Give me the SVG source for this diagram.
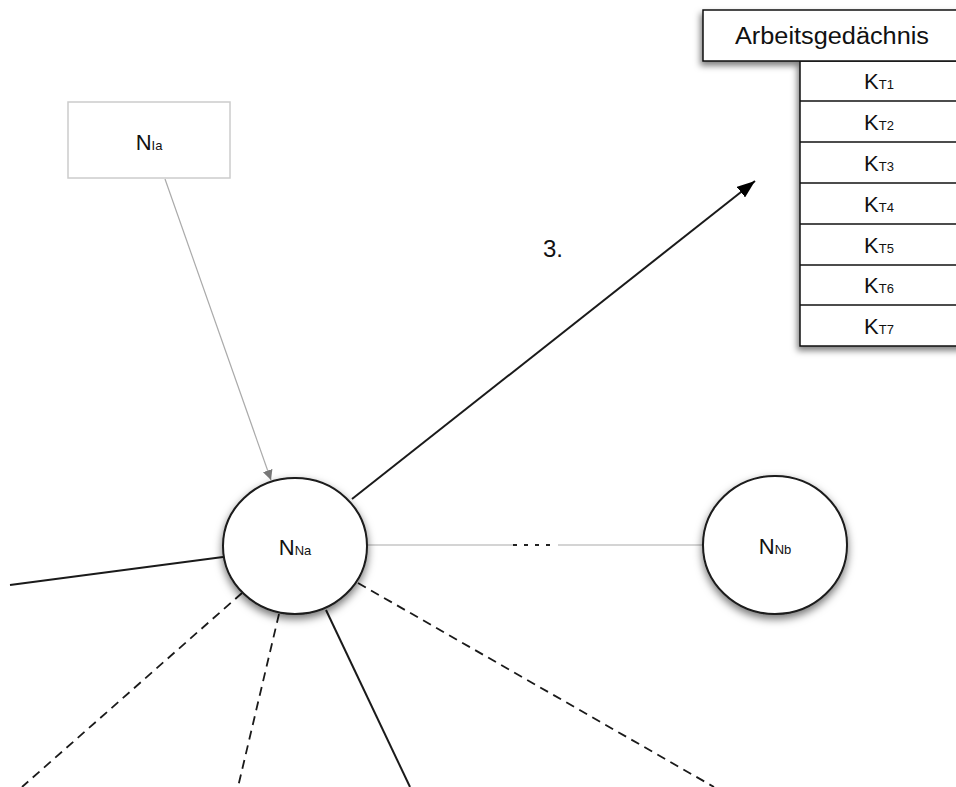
<svg xmlns="http://www.w3.org/2000/svg" width="956" height="787" viewBox="0 0 956 787">
<defs>
<filter id="sh" x="-30%" y="-30%" width="160%" height="160%">
<feDropShadow dx="0" dy="4" stdDeviation="4" flood-color="#000" flood-opacity="0.55"/>
</filter>
<filter id="tsh" x="-10%" y="-10%" width="120%" height="130%">
<feDropShadow dx="-2" dy="4" stdDeviation="3" flood-color="#000" flood-opacity="0.5"/>
</filter>
<marker id="ah" viewBox="0 0 10 10" refX="10" refY="5" markerWidth="10" markerHeight="10" markerUnits="userSpaceOnUse" orient="auto">
<path d="M0,0 L10,5 L0,10 z" fill="#777"/>
</marker>
<marker id="ahb" viewBox="0 0 16 12" refX="16" refY="6" markerWidth="18" markerHeight="14" markerUnits="userSpaceOnUse" orient="auto">
<path d="M0,0 L16,6 L0,12 z" fill="#000"/>
</marker>
</defs>
<style>
text{font-family:"Liberation Sans",Arial,sans-serif;fill:#111}
.big{font-size:22px}
.sub{font-size:13px}
.node{fill:#fff;stroke:#1a1a1a;stroke-width:2}
.cell{fill:#fff;stroke:#111;stroke-width:1.5}
.solid{stroke:#1a1a1a;stroke-width:2;fill:none}
.dash{stroke:#1a1a1a;stroke-width:1.8;fill:none;stroke-dasharray:9 6}
.thin{stroke:#aaa;stroke-width:1.2;fill:none}
</style>
<rect width="956" height="787" fill="#fff"/>
<g id="connectors">
<line class="thin" x1="165" y1="179" x2="271" y2="480" marker-end="url(#ah)"/>
<line class="solid" x1="352" y1="499" x2="755" y2="181" marker-end="url(#ahb)"/>
<line class="thin" x1="367" y1="545" x2="513" y2="545"/>
<line x1="513" y1="545" x2="553" y2="545" stroke="#222" stroke-width="2" stroke-dasharray="4 7"/>
<line class="thin" x1="558" y1="545" x2="703" y2="545"/>
<line class="solid" x1="10" y1="585" x2="223" y2="557"/>
<line class="dash" x1="242" y1="593" x2="22" y2="787"/>
<line class="dash" x1="279" y1="614" x2="238" y2="787"/>
<line class="solid" x1="326" y1="610" x2="410" y2="787"/>
<line class="dash" x1="358" y1="583" x2="714" y2="787"/>
<text x="543" y="257" style="font-size:24px">3.</text>
</g>
<g id="node-NIa">
<rect x="68" y="102" width="162" height="76" fill="#fff" stroke="#ccc" stroke-width="1.5"/>
<text x="149" y="150" text-anchor="middle"><tspan class="big">N</tspan><tspan class="sub">Ia</tspan></text>
</g>
<g id="node-NNa">
<ellipse class="node" cx="295" cy="546" rx="72" ry="68" filter="url(#sh)"/>
<text x="295" y="555" text-anchor="middle"><tspan class="big">N</tspan><tspan class="sub">Na</tspan></text>
</g>
<g id="node-NNb">
<ellipse class="node" cx="775" cy="545" rx="72" ry="69" filter="url(#sh)"/>
<text x="775" y="554" text-anchor="middle"><tspan class="big">N</tspan><tspan class="sub">Nb</tspan></text>
</g>
<g id="node-Arbeitsgedaechnis">
<g filter="url(#tsh)">
<rect class="cell" x="800" y="61" width="170" height="285"/>
<rect class="cell" x="703" y="10" width="270" height="51"/>
</g>
<line class="cell" x1="800" y1="101" x2="970" y2="101"/>
<line class="cell" x1="800" y1="142" x2="970" y2="142"/>
<line class="cell" x1="800" y1="183" x2="970" y2="183"/>
<line class="cell" x1="800" y1="224" x2="970" y2="224"/>
<line class="cell" x1="800" y1="265" x2="970" y2="265"/>
<line class="cell" x1="800" y1="305" x2="970" y2="305"/>
<text x="832" y="44" text-anchor="middle" style="font-size:23px" textLength="194" lengthAdjust="spacingAndGlyphs">Arbeitsgedächnis</text>
<text x="879" y="89" text-anchor="middle"><tspan class="big">K</tspan><tspan class="sub">T1</tspan></text>
<text x="879" y="130" text-anchor="middle"><tspan class="big">K</tspan><tspan class="sub">T2</tspan></text>
<text x="879" y="171" text-anchor="middle"><tspan class="big">K</tspan><tspan class="sub">T3</tspan></text>
<text x="879" y="212" text-anchor="middle"><tspan class="big">K</tspan><tspan class="sub">T4</tspan></text>
<text x="879" y="253" text-anchor="middle"><tspan class="big">K</tspan><tspan class="sub">T5</tspan></text>
<text x="879" y="293" text-anchor="middle"><tspan class="big">K</tspan><tspan class="sub">T6</tspan></text>
<text x="879" y="334" text-anchor="middle"><tspan class="big">K</tspan><tspan class="sub">T7</tspan></text>
</g>
</svg>
